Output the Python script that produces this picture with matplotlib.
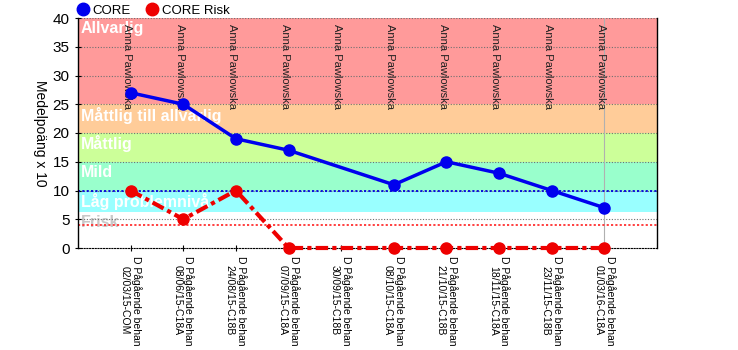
import numpy as np
import matplotlib
matplotlib.use("Agg")
import matplotlib.pyplot as plt
from matplotlib.lines import Line2D

plt.rcParams['font.family'] = ['Liberation Sans', 'DejaVu Sans']

dates = ["02/03/15-COM", "08/06/15-C18A", "24/08/15-C18B", "07/09/15-C18A",
         "30/09/15-C18B", "08/10/15-C18A", "21/10/15-C18B", "18/11/15-C18A",
         "23/11/15-C18B", "01/03/16-C18A"]
prefix = "D Pågående behan"
therapist = "Anna Pawlowska"
core = [27, 25, 19, 17, np.nan, 11, 15, 13, 10, 7]
core_risk = [10, 5, 10, 0, np.nan, 0, 0, 0, 0, 0]

bands = [(25, 40, "#FF9A9A", "Allvarlig"),
         (20, 25, "#FFCC99", "Måttlig till allvarlig"),
         (15, 20, "#CCFF99", "Måttlig"),
         (10, 15, "#99FFCC", "Mild"),
         (6.2, 10, "#99FFFF", "Låg problemnivå")]
core_cutoff = 10
risk_cutoff = 4

fig = plt.figure(figsize=(7.38, 3.5), dpi=100)
ax = fig.add_axes([78/738, 1-248/350, (657-78)/738, (248-18)/350])

x = np.arange(len(dates))
ax.set_xlim(-1, len(dates))
ax.set_ylim(0, 40)

for lo, hi, c, lab in bands:
    ax.axhspan(lo, hi, color=c, lw=0, zorder=0)
    ax.text(-0.95, hi - 1.9, lab, color="white", fontsize=11.5, fontweight="bold",
            va="center", ha="left", zorder=1)
ax.text(-0.95, 4.4, "Frisk", color="#C8C8C8", fontsize=11.5, fontweight="bold",
        va="center", ha="left", zorder=1)

for yv in range(5, 45, 5):
    ax.axhline(yv, color="#707070", lw=0.8, ls=(0, (1, 1.5)), zorder=1.5)
ax.axhline(core_cutoff, color="#0000DD", lw=1.3, ls=(0, (1.2, 1.2)), zorder=1.6)
ax.axhline(risk_cutoff, color="#FF3030", lw=1.3, ls=(0, (1.2, 1.2)), zorder=1.6)
ax.axvline(x[-1], color="#B0B0B0", lw=0.8, zorder=1.5)

for xi in x:
    ax.text(xi - 0.07, 39.0, therapist, rotation=-90, fontsize=8, ha="center",
            va="top", color="#202020", zorder=2)

cm = np.isfinite(core)
ax.plot(x[cm], np.array(core)[cm], color="#0000EE", lw=2.5, marker="o",
        ms=8, zorder=4, clip_on=False)
rm = np.isfinite(core_risk)
ax.plot(x[rm], np.array(core_risk)[rm], color="#EE0000", lw=3,
        ls=(0, (3, 1, 1, 1)), marker="o", ms=8, zorder=4, clip_on=False)

ax.set_yticks(range(0, 45, 5))
ax.set_xticks(x)
ax.set_xticklabels([f"{prefix}\n{d}" for d in dates], rotation=-90,
                   fontsize=7.5, ha="center", va="top", linespacing=1.15)
ax.tick_params(axis="y", labelsize=11, direction="inout", length=5, width=0.8)
ax.tick_params(axis="x", direction="inout", length=5, width=0.8, pad=3)
ax.set_ylabel("Medelpoäng x 10", rotation=-90, fontsize=10, labelpad=14)

ax.spines["top"].set_visible(False)
ax.spines["bottom"].set_linestyle((0, (1, 1.5)))
ax.spines["bottom"].set_color("black")
ax.spines["left"].set_linewidth(1)
ax.spines["right"].set_linewidth(1)

handles = [Line2D([], [], ls="none", marker="o", ms=9, color="#0000EE"),
           Line2D([], [], ls="none", marker="o", ms=9, color="#EE0000")]
fig.legend(handles, ["CORE", "CORE Risk"], loc="upper left",
           bbox_to_anchor=(61/738, 1.02), ncol=2, frameon=False, fontsize=9.5,
           handletextpad=0.0, columnspacing=0.85, handlelength=1.5)

fig.savefig("out.png", dpi=100)
